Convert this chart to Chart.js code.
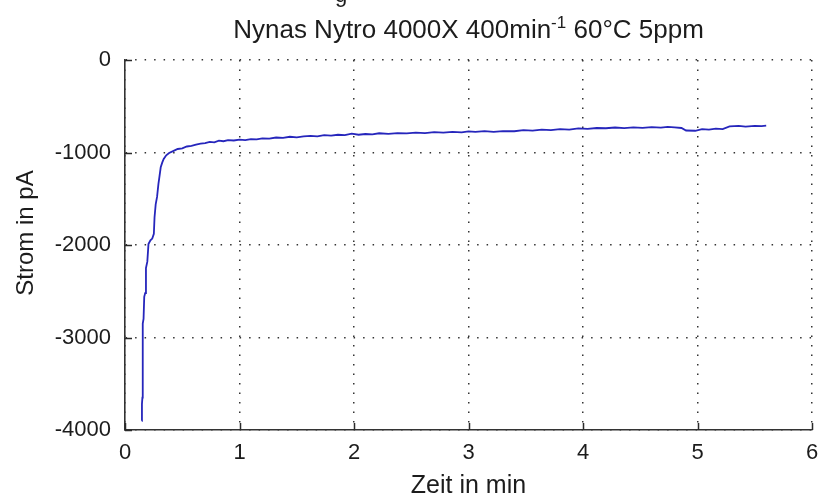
<!DOCTYPE html>
<html>
<head>
<meta charset="utf-8">
<title>Nynas Nytro 4000X</title>
<script src="https://cdn.jsdelivr.net/npm/chart.js@4/dist/chart.umd.min.js"></script>
<style>
  html, body { margin: 0; padding: 0; background: #ffffff; }
  #c { display: block; }
</style>
</head>
<body>
<canvas id="c" width="821" height="497"></canvas>
<script>
// Measured current over time (minutes, pA)
const timeMin = [
  0.146, 0.148, 0.152, 0.154, 0.156, 0.162, 0.168, 0.176, 0.183, 0.195,
  0.205, 0.222, 0.238, 0.252, 0.258, 0.268, 0.280, 0.292, 0.300, 0.312,
  0.325, 0.338, 0.360, 0.385, 0.42, 0.46, 0.50, 0.54, 0.58, 0.62,
  0.66, 0.70, 0.74, 0.78, 0.82, 0.86, 0.90, 0.95, 1.00, 1.05,
  1.10, 1.15, 1.20, 1.26, 1.32, 1.38, 1.44, 1.50, 1.56, 1.62,
  1.68, 1.74, 1.80, 1.86, 1.92, 1.98, 2.04, 2.10, 2.16, 2.22,
  2.30, 2.38, 2.46, 2.54, 2.62, 2.70, 2.78, 2.86, 2.94, 3.00,
  3.06, 3.14, 3.22, 3.30, 3.40, 3.48, 3.56, 3.64, 3.72, 3.80,
  3.88, 3.96, 4.04, 4.12, 4.20, 4.28, 4.36, 4.44, 4.52, 4.60,
  4.68, 4.74, 4.80, 4.86, 4.90, 4.98, 5.04, 5.10, 5.16, 5.22,
  5.28, 5.36, 5.42, 5.50, 5.56, 5.60
];
const currentPA = [
  -3900, -3720, -3650, -3200, -2850, -2800, -2560, -2520, -2250, -2180,
  -1990, -1950, -1930, -1880, -1700, -1560, -1480, -1340, -1270, -1160,
  -1110, -1070, -1030, -1005, -985, -962, -955, -935, -928, -915,
  -905, -898, -885, -890, -872, -878, -866, -870, -860, -866,
  -855, -858, -848, -850, -838, -842, -830, -836, -826, -820,
  -826, -812, -818, -808, -812, -796, -808, -800, -803, -792,
  -798, -790, -794, -786, -790, -780, -786, -776, -782, -772,
  -778, -770, -776, -768, -770, -758, -764, -752, -758, -748,
  -752, -740, -745, -735, -738, -730, -736, -728, -733, -725,
  -730, -722, -728, -735, -762, -765, -748, -752, -742, -748,
  -718, -712, -720, -712, -714, -710
];

// Axis ticks
const xTicks = [0, 1, 2, 3, 4, 5, 6];
const yTicks = [0, -1000, -2000, -3000, -4000];

const chartTitle = ['Nynas Nytro 4000X 400min', '-1', ' 60°C 5ppm'];
const xLabel = 'Zeit in min';
const yLabel = 'Strom in pA';

const FONT = '"Liberation Sans", Arial, sans-serif';
const INK = '#1c1c1c';

const points = timeMin.map((t, i) => ({ x: t, y: currentPA[i] }));

// Titles, axis labels and inward tick marks drawn on top of the chart
const decor = {
  id: 'decor',
  afterDraw(chart) {
    const { ctx, chartArea: a, scales } = chart;
    const xs = scales.x, ys = scales.y;
    ctx.save();
    ctx.fillStyle = INK;

    // cropped line of text above the title
    ctx.font = '22px ' + FONT;
    ctx.textAlign = 'center';
    ctx.textBaseline = 'alphabetic';
    ctx.fillText('g', 341, 2);

    // title with superscript
    const big = '26px ' + FONT, small = '17px ' + FONT;
    ctx.font = big;
    const w1 = ctx.measureText(chartTitle[0]).width;
    const w3 = ctx.measureText(chartTitle[2]).width;
    ctx.font = small;
    const w2 = ctx.measureText(chartTitle[1]).width;
    const cx = (a.left + a.right) / 2;
    let tx = cx - (w1 + w2 + w3) / 2;
    ctx.textAlign = 'left';
    ctx.font = big;
    ctx.fillText(chartTitle[0], tx, 38);
    ctx.font = small;
    ctx.fillText(chartTitle[1], tx + w1, 28);
    ctx.font = big;
    ctx.fillText(chartTitle[2], tx + w1 + w2, 38);

    // x axis label
    ctx.font = '25px ' + FONT;
    ctx.textAlign = 'center';
    ctx.fillText(xLabel, cx, 493);

    // y axis label
    ctx.save();
    ctx.translate(33, (a.top + a.bottom) / 2 - 12);
    ctx.rotate(-Math.PI / 2);
    ctx.font = '24px ' + FONT;
    ctx.textAlign = 'center';
    ctx.fillText(yLabel, 0, 0);
    ctx.restore();

    // inward tick marks
    ctx.strokeStyle = '#2a2a2a';
    ctx.lineWidth = 1.5;
    ctx.beginPath();
    xTicks.forEach(v => {
      const px = Math.round(xs.getPixelForValue(v)) + 0.5;
      ctx.moveTo(px, a.bottom);
      ctx.lineTo(px, a.bottom - 7);
    });
    yTicks.forEach(v => {
      const py = Math.round(ys.getPixelForValue(v)) + 0.5;
      ctx.moveTo(a.left, py);
      ctx.lineTo(a.left + 7, py);
    });
    ctx.stroke();
    ctx.restore();
  }
};

const plainTick = v => String(v);

new Chart(document.getElementById('c'), {
  type: 'line',
  data: {
    datasets: [{
      data: points,
      borderColor: '#2626bc',
      borderWidth: 1.8,
      pointRadius: 0,
      tension: 0,
      fill: false
    }]
  },
  options: {
    responsive: false,
    animation: false,
    devicePixelRatio: 1,
    layout: { padding: { top: 60, right: 9, left: 0, bottom: 0 } },
    plugins: { legend: { display: false }, title: { display: false }, tooltip: { enabled: false } },
    scales: {
      x: {
        type: 'linear',
        min: 0, max: 6,
        afterFit(s) { s.height = 67; s.paddingLeft = 0; s.paddingRight = 0; },
        afterBuildTicks(s) { s.ticks = xTicks.map(v => ({ value: v })); },
        ticks: { color: INK, font: { family: FONT, size: 22 }, padding: 10, maxRotation: 0, callback: plainTick },
        grid: { color: '#333333', lineWidth: 1.5, drawTicks: false },
        border: { display: true, color: '#333333', width: 1.6, dash: [1.5, 8] }
      },
      y: {
        type: 'linear',
        min: -4000, max: 0,
        afterFit(s) { s.width = 125; s.paddingTop = 0; s.paddingBottom = 0; },
        afterBuildTicks(s) { s.ticks = yTicks.map(v => ({ value: v })); },
        ticks: { color: INK, font: { family: FONT, size: 22 }, padding: 14, callback: plainTick },
        grid: { color: '#333333', lineWidth: 1.5, drawTicks: false },
        border: { display: true, color: '#333333', width: 1.6, dash: [1.5, 8] }
      }
    }
  },
  plugins: [decor]
});
</script>
</body>
</html>
